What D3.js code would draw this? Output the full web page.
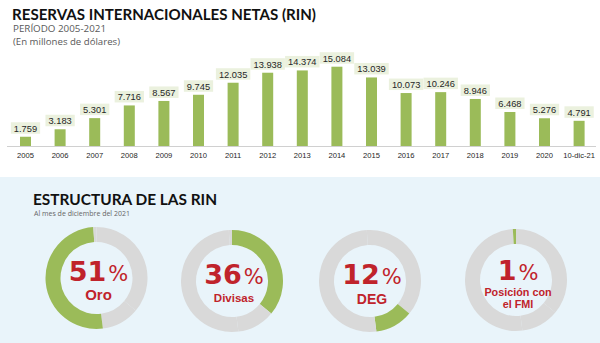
<!DOCTYPE html>
<html><head><meta charset="utf-8">
<script src="https://cdn.jsdelivr.net/npm/d3@7"></script>
<style>
html,body{margin:0;padding:0;background:#fff;}
svg{display:block;}
</style></head>
<body>
<svg id="c" width="600" height="343"></svg>
<script>
// ---- data ----
const years = ["2005","2006","2007","2008","2009","2010","2011","2012","2013","2014","2015","2016","2017","2018","2019","2020","10-dic-21"];
const rin = [1759,3183,5301,7716,8567,9745,12035,13938,14374,15084,13039,10073,10246,8946,6468,5276,4791];

const compNames = ["Oro","Divisas","DEG","Posición con el FMI"];
const compValues = [51,36,12,1];
const compLabelLines = [["Oro"],["Divisas"],["DEG"],["Posición con","el FMI"]];
// order in which the parts are stacked around the ring (clockwise from the top)
const ringOrder = ["Divisas","DEG","Oro","Posición con el FMI"];

// ---- style ----
const GREEN = "#9bbb59", GRAY = "#d9d9d9", RED = "#c0232b", LABELBG = "#ebf1de";

const svg = d3.select("#c");
const loc = d3.formatLocale({decimal:",", thousands:".", grouping:[3], currency:["",""]});
const fmt = loc.format(",d");

// titles
svg.append("text").attr("x",12).attr("y",20)
  .attr("font-family","Lato, 'Open Sans', sans-serif").attr("font-weight",700).attr("font-size",14.5)
  .attr("textLength",304).attr("lengthAdjust","spacingAndGlyphs")
  .attr("fill","#111").text("RESERVAS INTERNACIONALES NETAS (RIN)");
svg.append("text").attr("x",13).attr("y",32)
  .attr("font-family","'Open Sans', Lato, sans-serif").attr("font-size",8.8)
  .attr("textLength",93).attr("lengthAdjust","spacingAndGlyphs")
  .attr("fill","#595959").text("PERÍODO 2005-2021");
svg.append("text").attr("x",13).attr("y",44.5)
  .attr("font-family","'Open Sans', Lato, sans-serif").attr("font-size",8.8)
  .attr("textLength",107).attr("lengthAdjust","spacingAndGlyphs")
  .attr("fill","#595959").text("(En millones de dólares)");

// ---- bar chart ----
const x = d3.scalePoint().domain(years).range([8.2, 596.4]).padding(0.5);
const y = d3.scaleLinear().domain([0,16000]).range([146, 146 - 16000*0.005257]);
const barW = 11;

svg.append("line").attr("x1",7).attr("x2",596).attr("y1",y(0)+0.5).attr("y2",y(0)+0.5)
  .attr("stroke","#d0d0d0").attr("stroke-width",1);

svg.append("g").selectAll("rect").data(rin).join("rect")
  .attr("x",(d,i)=>x(years[i])-barW/2).attr("width",barW)
  .attr("y",d=>y(d)).attr("height",d=>y(0)-y(d)).attr("fill",GREEN);

const lab = svg.append("g").selectAll("g").data(rin).join("g");
lab.each(function(d,i){
  const g = d3.select(this);
  const t = g.append("text").attr("x",x(years[i])).attr("y",y(d)-5)
    .attr("text-anchor","middle").attr("font-family","'Liberation Sans', Arial, sans-serif")
    .attr("font-size",9.3).attr("fill","#262626").text(fmt(d));
  const w = t.node().getComputedTextLength()+6;
  g.insert("rect","text").attr("x",x(years[i])-w/2).attr("y",y(d)-14.5).attr("width",w).attr("height",11.5)
    .attr("fill",LABELBG);
});

svg.append("g").selectAll("text").data(years).join("text")
  .attr("x",d=>x(d)).attr("y",157.5).attr("text-anchor","middle")
  .attr("font-family","'Liberation Sans', Arial, sans-serif").attr("font-size",7.6)
  .attr("fill","#262626").text(d=>d);

// ---- lower panel ----
svg.append("rect").attr("x",0).attr("y",177).attr("width",600).attr("height",166).attr("fill","#e9f4fa");
svg.append("text").attr("x",33).attr("y",204.5)
  .attr("font-family","Lato, 'Open Sans', sans-serif").attr("font-weight",700).attr("font-size",14.5)
  .attr("textLength",184).attr("lengthAdjust","spacingAndGlyphs")
  .attr("fill","#111").text("ESTRUCTURA DE LAS RIN");
svg.append("text").attr("x",34).attr("y",215.5)
  .attr("font-family","'Open Sans', Lato, sans-serif").attr("font-size",7.3)
  .attr("textLength",96).attr("lengthAdjust","spacingAndGlyphs")
  .attr("fill","#666").text("Al mes de diciembre del 2021");

const pie = d3.pie().sort(null).value(d=>d.v);
const ringData = ringOrder.map(n=>({n, v: compValues[compNames.indexOf(n)]}));
const arcs = pie(ringData);
const arc = d3.arc().innerRadius(36).outerRadius(51);

const donutCx = [96.5, 232, 370, 516];
const donutCy = [278, 281, 281, 280];
const numSize = [27, 27, 27, 27];
const labSize = [15, 11.5, 14, 10.8];
const labDy = [[22],[21],[23],[16,28]];

compNames.forEach((name,i)=>{
  const g = svg.append("g").attr("transform",`translate(${donutCx[i]},${donutCy[i]})`);
  g.selectAll("path").data(arcs).join("path")
    .attr("d",arc).attr("fill",d=>d.data.n===name?GREEN:GRAY);
  const t = g.append("text").attr("x",2).attr("y",i===3?0:2.5).attr("text-anchor","middle").attr("fill",RED);
  t.append("tspan").attr("font-family","'DejaVu Sans', sans-serif").attr("font-weight",700)
    .attr("font-size",numSize[i]).text(compValues[i]);
  t.append("tspan").attr("font-family","'DejaVu Sans', sans-serif").attr("font-weight",400)
    .attr("font-size",21).attr("dx",2).text("%");
  compLabelLines[i].forEach((line,k)=>{
    g.append("text").attr("x",2).attr("y",labDy[i][k]).attr("text-anchor","middle")
      .attr("font-family","'Liberation Sans', Arial, sans-serif").attr("font-weight",700)
      .attr("font-size",labSize[i]).attr("fill",RED).text(line);
  });
});
</script>
</body></html>
